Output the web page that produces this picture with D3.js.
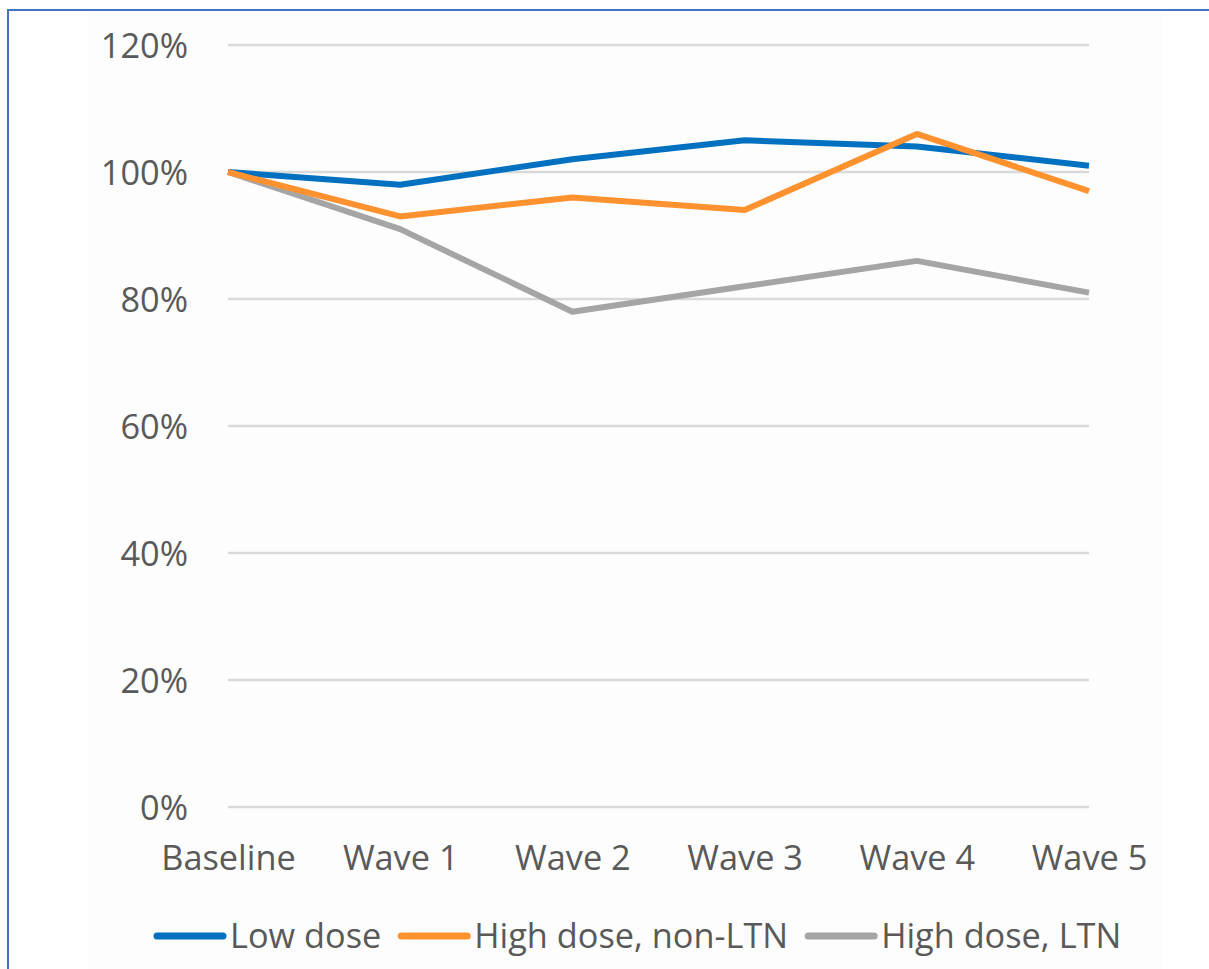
<!DOCTYPE html>
<html>
<head>
<meta charset="utf-8">
<script src="https://cdn.jsdelivr.net/npm/d3@7"></script>
<style>
  html, body { margin: 0; padding: 0; background: #ffffff; }
  svg { display: block; }
  text { font-family: "Open Sans", "Noto Sans", sans-serif; fill: #595959; }
</style>
</head>
<body>
<svg id="chart" width="1209" height="969"></svg>
<script>
// Categories along the x axis
const waves = ["Baseline", "Wave 1", "Wave 2", "Wave 3", "Wave 4", "Wave 5"];

// Share relative to baseline, per group
const lowDose = [1.00, 0.98, 1.02, 1.05, 1.04, 1.01];
const highDoseNonLTN = [1.00, 0.93, 0.96, 0.94, 1.06, 0.97];
const highDoseLTN = [1.00, 0.91, 0.78, 0.82, 0.86, 0.81];

// Y axis ticks
const yTicks = [0, 0.2, 0.4, 0.6, 0.8, 1.0, 1.2];

const seriesNames = ["Low dose", "High dose, non-LTN", "High dose, LTN"];
const seriesColors = ["#0070C0", "#FF912E", "#A5A5A5"];
const seriesValues = [lowDose, highDoseNonLTN, highDoseLTN];

const series = seriesNames.map((name, i) => ({
  name, color: seriesColors[i], values: seriesValues[i]
}));

const FONT_SIZE = 34.3;
const svg = d3.select("#chart");

// Frame of the chart box (continues past the right and bottom edges)
svg.append("rect")
  .attr("x", 8).attr("y", 10)
  .attr("width", 1300).attr("height", 1100)
  .attr("fill", "#ffffff")
  .attr("stroke", "#4472C4").attr("stroke-width", 2);

// Faint plot background
svg.append("rect")
  .attr("x", 89).attr("y", 14)
  .attr("width", 1073).attr("height", 955)
  .attr("fill", "#fdfdfd");

const x = d3.scalePoint().domain(waves).range([228, 1089]);
const y = d3.scaleLinear().domain([0, 1.2]).range([807, 45]);

// Horizontal gridlines
svg.append("g").attr("class", "grid")
  .selectAll("line")
  .data(yTicks)
  .join("line")
  .attr("x1", x(waves[0])).attr("x2", x(waves[waves.length - 1]))
  .attr("y1", d => y(d)).attr("y2", d => y(d))
  .attr("stroke", "#d9d9d9").attr("stroke-width", 2.5);

// Y axis labels
const yAxis = d3.axisLeft(y)
  .tickValues(yTicks)
  .tickFormat(d3.format(".0%"))
  .tickSize(0)
  .tickPadding(0);
const yG = svg.append("g")
  .attr("transform", "translate(188,0)")
  .call(yAxis);
yG.select(".domain").remove();
yG.selectAll("text")
  .attr("font-size", FONT_SIZE)
  .attr("font-family", "Open Sans")
  .attr("fill", "#595959")
  .attr("dy", "0.36em");

// X axis labels
const xAxis = d3.axisBottom(x).tickSize(0).tickPadding(0);
const xG = svg.append("g")
  .attr("transform", "translate(0,870)")
  .call(xAxis);
xG.select(".domain").remove();
xG.selectAll("text")
  .attr("font-size", FONT_SIZE)
  .attr("font-family", "Open Sans")
  .attr("fill", "#595959")
  .attr("dy", 0)
  .attr("y", 0);

// Series lines
const line = d3.line()
  .x((d, i) => x(waves[i]))
  .y(d => y(d))
  .curve(d3.curveLinear);

const drawOrder = [2, 0, 1];
svg.append("g").attr("class", "lines")
  .selectAll("path")
  .data(drawOrder.map(i => series[i]))
  .join("path")
  .attr("d", d => line(d.values))
  .attr("fill", "none")
  .attr("stroke", d => d.color)
  .attr("stroke-width", 6)
  .attr("stroke-linejoin", "round")
  .attr("stroke-linecap", "butt");

// Legend
const legend = svg.append("g").attr("class", "legend");
let lx = 157;
const ly = 936;
series.forEach(s => {
  legend.append("line")
    .attr("x1", lx).attr("x2", lx + 66)
    .attr("y1", ly).attr("y2", ly)
    .attr("stroke", s.color)
    .attr("stroke-width", 7)
    .attr("stroke-linecap", "round");
  const t = legend.append("text")
    .attr("x", lx + 73)
    .attr("y", ly + 12)
    .attr("font-size", FONT_SIZE)
    .text(s.name);
  lx += 73 + t.node().getComputedTextLength() + 20;
});
</script>
</body>
</html>
